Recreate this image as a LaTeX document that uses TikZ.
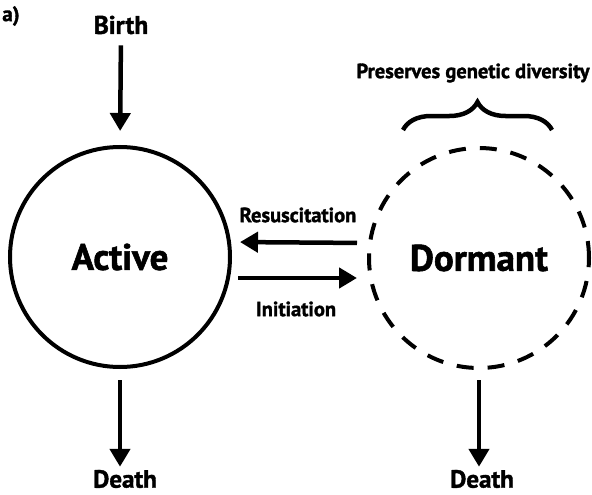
\documentclass[tikz,border=0pt]{standalone}
\usepackage{fontspec}
\setmainfont{PT Sans}[BoldFeatures={FakeBold=1.5}]
\usetikzlibrary{arrows.meta,decorations.pathreplacing}
\begin{document}
\begin{tikzpicture}[x=1pt,y=-1pt,
  lbl/.style={font=\bfseries, inner sep=0pt},
  arr/.style={line width=4.5pt, -{Triangle[width=20pt,length=18pt]}},
  state/.style={circle, line width=4pt, minimum size=220pt, inner sep=0pt, font=\fontsize{37}{40}\selectfont\bfseries}]
\useasboundingbox[fill=white] (0,0) rectangle (592,495);
\node[lbl, font=\fontsize{21}{24}\selectfont\bfseries] (tag) at (11,16) {a)};
\node[lbl, font=\fontsize{25.5}{28}\selectfont\bfseries] (birth) at (121,25) {Birth};
\node[state, draw] (act) at (120,257) {Active};
\node[state, draw, dash pattern=on 17pt off 14pt] (dor) at (479,258) {Dormant};
\node[lbl, font=\fontsize{25}{28}\selectfont\bfseries] (death1) at (125,479) {Death};
\node[lbl, font=\fontsize{25}{28}\selectfont\bfseries] (death2) at (482,479) {Death};
\node[lbl, font=\fontsize{20.5}{24}\selectfont\bfseries] (res) at (298,215) {Resuscitation};
\node[lbl, font=\fontsize{20.5}{24}\selectfont\bfseries] (ini) at (296,309) {Initiation};
\node[lbl, font=\fontsize{20.5}{24}\selectfont\bfseries] (pres) at (473,73) {Preserves genetic diversity};
\coordinate (bl) at (403,130);
\coordinate (br) at (552,130);
\draw[line width=4.5pt, decorate, decoration={brace, amplitude=28pt}] (bl) -- (br);
\draw[arr, shorten <=11pt, shorten >=14pt] (birth.south) -- (act.north);
\draw[arr, shorten <=10pt, shorten >=8pt] ([yshift=15pt]dor.west) -- ([yshift=15pt]act.east);
\draw[arr, shorten <=6pt, shorten >=10pt] ([yshift=-21pt]act.east) -- ([yshift=-20pt]dor.west);
\draw[arr, shorten <=11pt, shorten >=3pt] (act.south) -- (act.south |- death1.north);
\draw[arr, shorten <=10pt, shorten >=3pt] (dor.south) -- (dor.south |- death2.north);
\end{tikzpicture}
\end{document}
